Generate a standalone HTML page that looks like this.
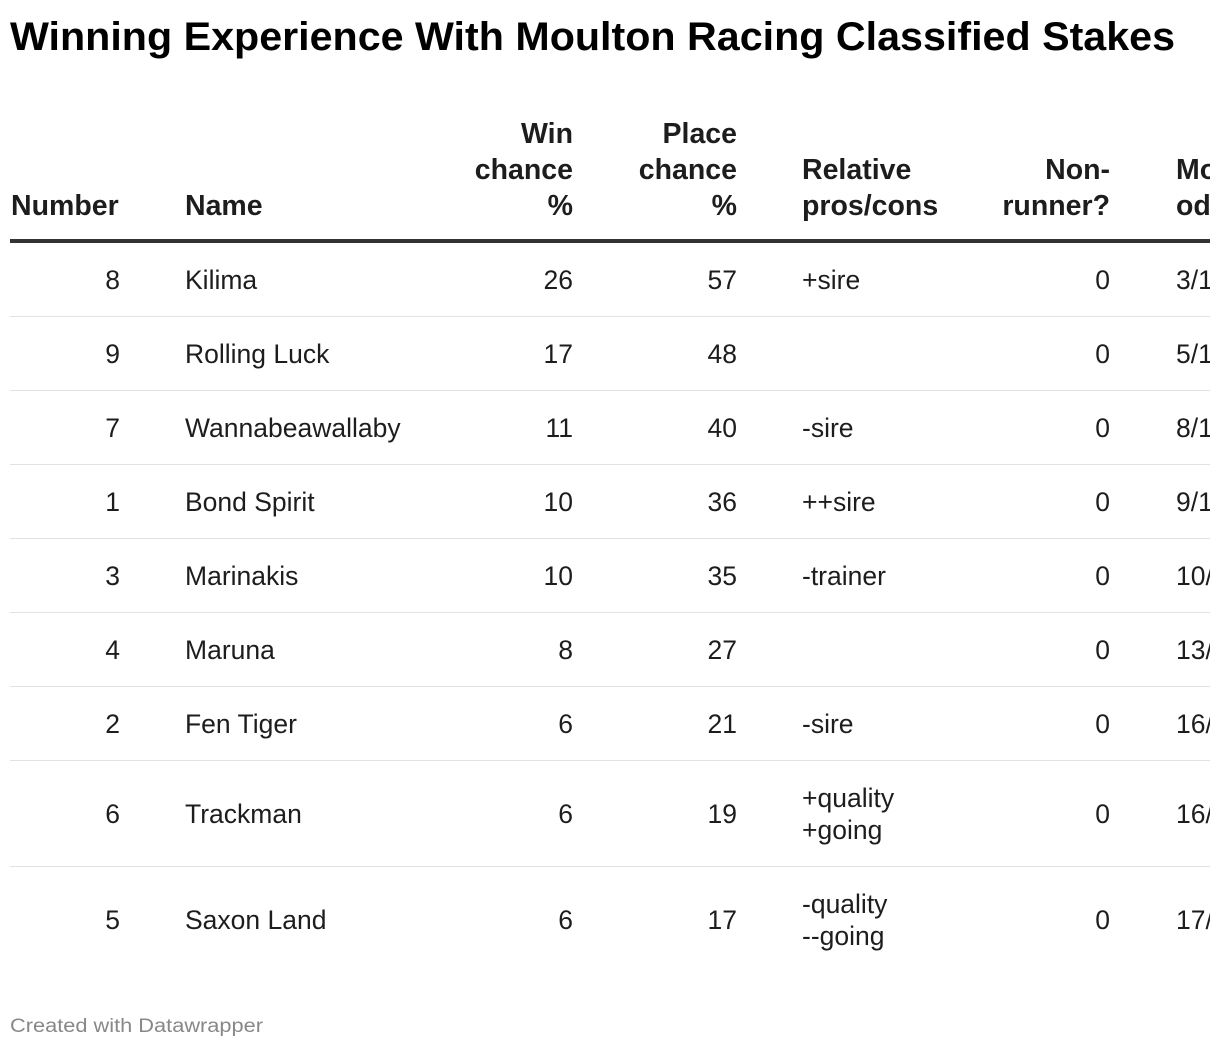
<!DOCTYPE html>
<html><head><meta charset="utf-8"><style>
html,body{margin:0;padding:0;background:#fff;}
svg{display:block;}
text{font-family:"Liberation Sans",Arial,sans-serif;}
.h{font-weight:bold;font-size:28.5px;fill:#1d1d1d;}
.b{font-size:26.5px;fill:#1d1d1d;}
.r{text-anchor:end;}
</style></head><body>
<svg width="1220" height="1048" viewBox="0 0 1220 1048" xmlns="http://www.w3.org/2000/svg">
<defs><clipPath id="c"><rect x="0" y="0" width="1210" height="1048"/></clipPath></defs>
<text x="10" y="50" font-size="40" font-weight="bold" fill="#000" textLength="1165" lengthAdjust="spacingAndGlyphs">Winning Experience With Moulton Racing Classified Stakes</text>
<g clip-path="url(#c)">
<g class="h">
<text x="11" y="215">Number</text>
<text x="185" y="215">Name</text>
<text class="r" x="573" y="143">Win</text><text class="r" x="573" y="179">chance</text><text class="r" x="573" y="215">%</text>
<text class="r" x="737" y="143">Place</text><text class="r" x="737" y="179">chance</text><text class="r" x="737" y="215">%</text>
<text x="802" y="179">Relative</text><text x="802" y="215">pros/cons</text>
<text class="r" x="1110" y="179">Non-</text><text class="r" x="1110" y="215">runner?</text>
<text x="1176" y="179">Model</text><text x="1176" y="215">odds</text>
</g>
<rect x="10" y="239" width="1210" height="4" fill="#333"/>
<g fill="#e2e2e2">
<rect x="10" y="316" width="1210" height="1"/>
<rect x="10" y="390" width="1210" height="1"/>
<rect x="10" y="464" width="1210" height="1"/>
<rect x="10" y="538" width="1210" height="1"/>
<rect x="10" y="612" width="1210" height="1"/>
<rect x="10" y="686" width="1210" height="1"/>
<rect x="10" y="760" width="1210" height="1"/>
<rect x="10" y="866" width="1210" height="1"/>
</g>
<g class="b">
<text class="r" x="120" y="289">8</text><text x="185" y="289">Kilima</text><text class="r" x="573" y="289">26</text><text class="r" x="737" y="289">57</text><text x="802" y="289">+sire</text><text class="r" x="1110" y="289">0</text><text x="1176" y="289">3/1</text>
<text class="r" x="120" y="363">9</text><text x="185" y="363">Rolling Luck</text><text class="r" x="573" y="363">17</text><text class="r" x="737" y="363">48</text><text class="r" x="1110" y="363">0</text><text x="1176" y="363">5/1</text>
<text class="r" x="120" y="437">7</text><text x="185" y="437">Wannabeawallaby</text><text class="r" x="573" y="437">11</text><text class="r" x="737" y="437">40</text><text x="802" y="437">-sire</text><text class="r" x="1110" y="437">0</text><text x="1176" y="437">8/1</text>
<text class="r" x="120" y="511">1</text><text x="185" y="511">Bond Spirit</text><text class="r" x="573" y="511">10</text><text class="r" x="737" y="511">36</text><text x="802" y="511">++sire</text><text class="r" x="1110" y="511">0</text><text x="1176" y="511">9/1</text>
<text class="r" x="120" y="585">3</text><text x="185" y="585">Marinakis</text><text class="r" x="573" y="585">10</text><text class="r" x="737" y="585">35</text><text x="802" y="585">-trainer</text><text class="r" x="1110" y="585">0</text><text x="1176" y="585">10/1</text>
<text class="r" x="120" y="659">4</text><text x="185" y="659">Maruna</text><text class="r" x="573" y="659">8</text><text class="r" x="737" y="659">27</text><text class="r" x="1110" y="659">0</text><text x="1176" y="659">13/1</text>
<text class="r" x="120" y="733">2</text><text x="185" y="733">Fen Tiger</text><text class="r" x="573" y="733">6</text><text class="r" x="737" y="733">21</text><text x="802" y="733">-sire</text><text class="r" x="1110" y="733">0</text><text x="1176" y="733">16/1</text>
<text class="r" x="120" y="823">6</text><text x="185" y="823">Trackman</text><text class="r" x="573" y="823">6</text><text class="r" x="737" y="823">19</text><text x="802" y="807">+quality</text><text x="802" y="839">+going</text><text class="r" x="1110" y="823">0</text><text x="1176" y="823">16/1</text>
<text class="r" x="120" y="929">5</text><text x="185" y="929">Saxon Land</text><text class="r" x="573" y="929">6</text><text class="r" x="737" y="929">17</text><text x="802" y="913">-quality</text><text x="802" y="945">--going</text><text class="r" x="1110" y="929">0</text><text x="1176" y="929">17/1</text>
</g>
</g>
<text x="10" y="1032" font-size="19" fill="#888" textLength="253" lengthAdjust="spacingAndGlyphs">Created with Datawrapper</text>
</svg>
</body></html>
